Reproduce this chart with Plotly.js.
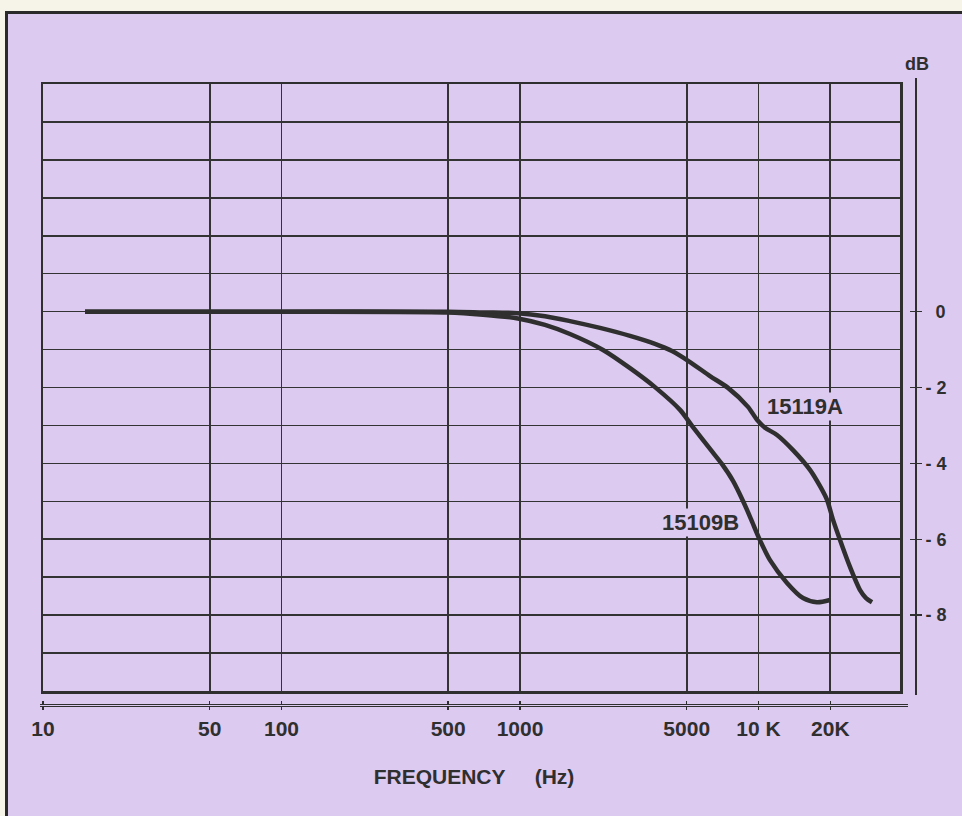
<!DOCTYPE html>
<html>
<head>
<meta charset="utf-8">
<script src="https://cdn.plot.ly/plotly-3.0.1.min.js"></script>
<style>
  html, body { margin: 0; padding: 0; background: #f6f3e8; }
  #chart { width: 962px; height: 816px; }
</style>
</head>
<body>
<div id="chart"></div>
<script>
// ---- data ----
var freqTicks = [10, 50, 100, 500, 1000, 5000, 10000, 20000];
var freqTickText = ['10', '50', '100', '500', '1000', '5000', '10\u00a0K', '20K'];
var dbTicks = [0, -2, -4, -6, -8];
var dbTickText = ['\u00a0\u00a00', '-\u00a02', '-\u00a04', '-\u00a06', '-\u00a08'];

// 15119A (upper curve): frequency in Hz, level in dB
var freqA = [15, 100, 500, 700, 980, 1273, 1620, 2165, 2893, 3681, 4338, 5162, 6262, 7450, 9036, 9856, 10648, 11956, 13956, 16440, 18113, 19377, 20536, 21970, 24188, 26652, 28236, 29920];
var dbA   = [0, 0, 0, -0.02, -0.04, -0.12, -0.25, -0.43, -0.64, -0.85, -1.04, -1.33, -1.70, -2.01, -2.51, -2.85, -3.06, -3.25, -3.65, -4.17, -4.60, -4.96, -5.49, -6.02, -6.73, -7.34, -7.55, -7.66];

// 15109B (lower curve)
var freqB = [15, 100, 494, 700, 980, 1273, 1620, 2229, 2893, 3681, 4688, 5263, 6262, 7031, 7818, 8610, 9303, 10049, 11174, 13169, 15369, 17590, 19942];
var dbB   = [0, 0, -0.02, -0.08, -0.18, -0.35, -0.59, -1.01, -1.49, -1.99, -2.59, -3.01, -3.62, -4.02, -4.46, -4.99, -5.47, -5.97, -6.55, -7.15, -7.55, -7.66, -7.60];

// ---- style ----
var INK = '#2f2f2f';
var LAV = '#dccaf0';
var FONT = 'Liberation Sans, Arial, sans-serif';
var W = 962, H = 816;
function px(x) { return x / W; }
function py(y) { return 1 - y / H; }
var DEC = 238.5; // pixels per decade in the reference

var traces = [
  { x: freqA, y: dbA, type: 'scatter', mode: 'lines', xaxis: 'x', yaxis: 'y',
    line: { color: INK, width: 4.5, shape: 'spline', smoothing: 0.8 }, hoverinfo: 'skip', showlegend: false },
  { x: freqB, y: dbB, type: 'scatter', mode: 'lines', xaxis: 'x', yaxis: 'y',
    line: { color: INK, width: 4.5, shape: 'spline', smoothing: 0.8 }, hoverinfo: 'skip', showlegend: false },
  // empty traces only to create the two detached axis subplots
  { x: [], y: [], type: 'scatter', mode: 'lines', xaxis: 'x2', yaxis: 'y2', hoverinfo: 'skip', showlegend: false },
  { x: [], y: [], type: 'scatter', mode: 'lines', xaxis: 'x3', yaxis: 'y3', hoverinfo: 'skip', showlegend: false }
];

var hiddenAxis = { showline: false, showticklabels: false, ticks: '', showgrid: false, zeroline: false, fixedrange: true };

var layout = {
  width: W, height: H,
  margin: { l: 0, r: 0, t: 0, b: 0, pad: 0 },
  paper_bgcolor: '#f6f3e8',
  plot_bgcolor: 'rgba(0,0,0,0)',
  font: { family: FONT, color: INK, size: 20, weight: 'bold' },
  showlegend: false,
  // main grid
  xaxis: {
    type: 'log', domain: [px(43), px(900)], range: [1, 1 + 857 / DEC],
    tickmode: 'array', tickvals: freqTicks, showticklabels: false, ticks: '',
    showgrid: true, gridcolor: '#333333', gridwidth: 1.6,
    showline: true, mirror: true, linecolor: INK, linewidth: 2.5,
    anchor: 'y', fixedrange: true
  },
  yaxis: {
    domain: [py(691), py(84)], range: [-10, 6],
    tickmode: 'linear', tick0: 0, dtick: 1, showticklabels: false, ticks: '',
    showgrid: true, gridcolor: '#333333', gridwidth: 1.6, zeroline: false,
    showline: true, mirror: true, linecolor: INK, linewidth: 2.5,
    anchor: 'x', fixedrange: true
  },
  // detached frequency axis
  xaxis2: {
    type: 'log', domain: [px(40), px(908)], range: [1 - 3 / DEC, 1 + 865 / DEC],
    anchor: 'y2', side: 'bottom',
    tickmode: 'array', tickvals: freqTicks, ticktext: freqTickText,
    ticks: 'outside', ticklen: 3.5, tickwidth: 1.5, tickcolor: INK,
    mirror: 'ticks', showline: true, linecolor: INK, linewidth: 1.1,
    showgrid: false, zeroline: false,
    tickfont: { family: FONT, size: 21, color: INK, weight: 'bold' },
    title: { text: 'FREQUENCY\u00a0\u00a0\u00a0\u00a0\u00a0(Hz)', standoff: 30,
             font: { family: FONT, size: 21, color: INK, weight: 'bold' } },
    fixedrange: true
  },
  yaxis2: Object.assign({ domain: [py(705.8), py(705.2)], range: [0, 1], anchor: 'x2' }, hiddenAxis),
  // detached dB axis on the right
  xaxis3: Object.assign({ domain: [px(915.7), px(916.3)], range: [0, 1], anchor: 'y3' }, hiddenAxis),
  yaxis3: {
    domain: [py(695), py(78)], range: [-10 - 4 / 37.9375, 6 + 6 / 37.9375],
    anchor: 'x3', side: 'right',
    tickmode: 'array', tickvals: dbTicks, ticktext: dbTickText,
    ticks: 'outside', ticklen: 4.5, tickwidth: 1.5, tickcolor: INK,
    mirror: 'ticks', showline: true, linecolor: INK, linewidth: 1,
    showgrid: false, zeroline: false,
    tickfont: { family: FONT, size: 18, color: INK, weight: 'bold' },
    fixedrange: true
  },
  shapes: [
    { type: 'rect', xref: 'paper', yref: 'paper', layer: 'below',
      x0: px(6.5), x1: 1.05, y0: -0.05, y1: py(12.5),
      fillcolor: LAV, line: { color: '#2a2a2a', width: 3 } }
  ],
  annotations: [
    { xref: 'paper', yref: 'paper', x: px(917), y: py(64), text: 'dB', showarrow: false,
      xanchor: 'center', yanchor: 'middle', font: { family: FONT, size: 18, color: INK, weight: 'bold' } },
    { xref: 'paper', yref: 'paper', x: px(805), y: py(406), text: '15119A', showarrow: false,
      xanchor: 'center', yanchor: 'middle', bgcolor: LAV, borderpad: 1,
      font: { family: FONT, size: 22, color: INK, weight: 'bold' } },
    { xref: 'paper', yref: 'paper', x: px(700), y: py(522), text: '15109B', showarrow: false,
      xanchor: 'center', yanchor: 'middle', bgcolor: LAV, borderpad: 1,
      font: { family: FONT, size: 22, color: INK, weight: 'bold' } }
  ]
};

Plotly.newPlot('chart', traces, layout, { staticPlot: true, displayModeBar: false });
</script>
</body>
</html>
